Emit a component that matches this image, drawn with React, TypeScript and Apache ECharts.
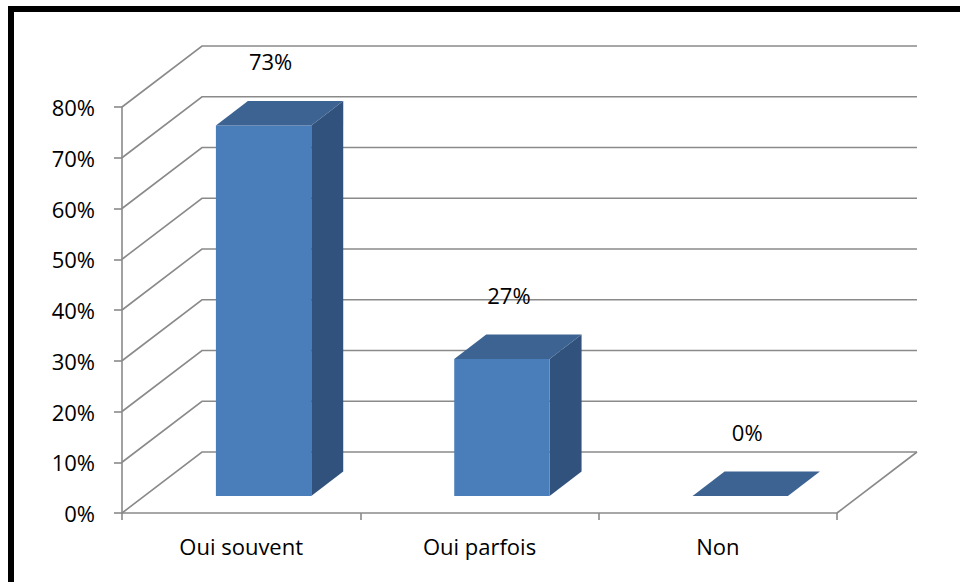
import React, { useEffect, useRef } from 'react';
import * as echarts from 'echarts';

const categories = ['Oui souvent', 'Oui parfois', 'Non'];
const values = [73, 27, 0];
const yTicks = [0, 10, 20, 30, 40, 50, 60, 70, 80];

const DEPTH_X = 80;
const DEPTH_Y = -61;
const BAR_FRONT = 0.28;
const BAR_BACK = 0.68;
const BAR_WIDTH = 0.4;
const LABEL_DX = 7;
const LABEL_DY = -64;
const FONT = '"Open Sans", Lato, sans-serif';
const FONT_SIZE = 22;
const GRID_COLOR = '#8A8A8A';
const FRONT_COLOR = '#4A7EBB';
const SIDE_COLOR = '#30527C';
const TOP_COLOR = '#3C6391';

export default function App() {
  const ref = useRef<HTMLDivElement>(null);
  useEffect(() => {
    const chart = echarts.init(ref.current as HTMLDivElement, null, { renderer: 'svg' });
    const lineStyle = { color: GRID_COLOR, width: 1.6 };
    chart.setOption({
      animation: false,
      backgroundColor: '#ffffff',
      grid: { left: 122, right: 123, top: 107, bottom: 69 },
      xAxis: {
        type: 'category',
        data: categories,
        boundaryGap: true,
        axisLine: { show: true, lineStyle },
        axisTick: { show: true, length: 7, lineStyle },
        axisLabel: { color: '#000', fontSize: FONT_SIZE, fontFamily: FONT, margin: 22 },
        splitLine: { show: false },
      },
      yAxis: {
        type: 'value',
        min: 0,
        max: 80,
        interval: 10,
        axisLine: { show: true, lineStyle },
        axisTick: { show: true, length: 8, lineStyle },
        axisLabel: { color: '#000', fontSize: FONT_SIZE, fontFamily: FONT, margin: 27, formatter: '{value}%' },
        splitLine: { show: false },
      },
      graphic: [
        {
          type: 'rect',
          z: 100,
          shape: { x: 11, y: 9, width: 1000, height: 1000 },
          style: { fill: 'none', stroke: '#000', lineWidth: 6 },
        },
      ],
      series: [
        {
          type: 'custom',
          silent: true,
          clip: false,
          z: 1,
          data: yTicks.map((v) => [0, v]),
          renderItem: (params: any, api: any) => {
            const cs = params.coordSys;
            const v = api.value(1);
            const y = api.coord([0, v])[1];
            const x0 = cs.x;
            const children: any[] = [
              {
                type: 'polyline',
                shape: {
                  points: [
                    [x0, y],
                    [x0 + DEPTH_X, y + DEPTH_Y],
                    [x0 + cs.width + DEPTH_X, y + DEPTH_Y],
                  ],
                },
                style: { stroke: GRID_COLOR, lineWidth: 1.6, fill: 'none' },
              },
            ];
            if (v === 0) {
              children.push({
                type: 'line',
                shape: { x1: x0 + cs.width, y1: y, x2: x0 + cs.width + DEPTH_X, y2: y + DEPTH_Y },
                style: { stroke: GRID_COLOR, lineWidth: 1.6 },
              });
            }
            return { type: 'group', children };
          },
        },
        {
          type: 'custom',
          clip: false,
          z: 2,
          data: values.map((v, i) => [i, v]),
          renderItem: (params: any, api: any) => {
            const i = api.value(0);
            const v = api.value(1);
            const top = api.coord([i, v]);
            const base = api.coord([i, 0]);
            const band = api.size([1, 0])[0];
            const w = band * BAR_WIDTH;
            const cx = top[0];
            const yT = top[1];
            const yB = base[1];
            const fx = BAR_FRONT * DEPTH_X;
            const fy = BAR_FRONT * DEPTH_Y;
            const bx = BAR_BACK * DEPTH_X;
            const by = BAR_BACK * DEPTH_Y;
            const l = cx - w / 2;
            const r = cx + w / 2;
            return {
              type: 'group',
              children: [
                {
                  type: 'polygon',
                  shape: {
                    points: [
                      [r + fx, yT + fy],
                      [r + bx, yT + by],
                      [r + bx, yB + by],
                      [r + fx, yB + fy],
                    ],
                  },
                  style: { fill: SIDE_COLOR },
                },
                {
                  type: 'rect',
                  shape: { x: l + fx, y: yT + fy, width: w, height: yB - yT },
                  style: { fill: FRONT_COLOR },
                },
                {
                  type: 'polygon',
                  shape: {
                    points: [
                      [l + fx, yT + fy],
                      [r + fx, yT + fy],
                      [r + bx, yT + by],
                      [l + bx, yT + by],
                    ],
                  },
                  style: { fill: TOP_COLOR },
                },
                {
                  type: 'text',
                  x: cx + fx + LABEL_DX,
                  y: yT + fy + LABEL_DY,
                  style: {
                    text: v + '%',
                    fill: '#000',
                    fontSize: FONT_SIZE,
                    fontFamily: FONT,
                    align: 'center',
                    verticalAlign: 'middle',
                    textAlign: 'center',
                    textVerticalAlign: 'middle',
                  },
                },
              ],
            };
          },
        },
      ],
    });
    return () => chart.dispose();
  }, []);
  return (
    <div
      ref={ref}
      style={{ position: 'absolute', left: 0, top: 0, width: 960, height: 582 }}
    />
  );
}
